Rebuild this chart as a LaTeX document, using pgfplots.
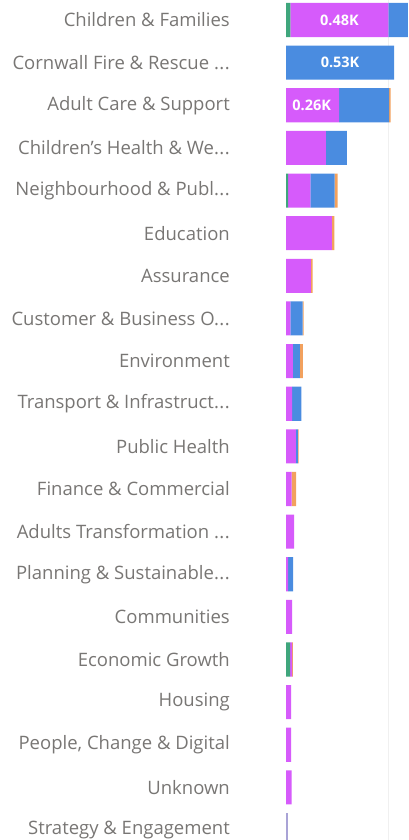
\documentclass[border=0pt]{standalone}
\usepackage{fontspec}
\setmainfont{Open Sans}
\usepackage{pgfplots}
\pgfplotsset{compat=1.18}
\definecolor{SegGreen}{HTML}{3FA67C}
\definecolor{SegMagenta}{HTML}{D65BFB}
\definecolor{SegBlue}{HTML}{4A8CE0}
\definecolor{SegOrange}{HTML}{F2A15E}
\definecolor{SegLavender}{HTML}{A9A3D6}
\definecolor{LabelGrey}{HTML}{787674}
\newcommand{\el}{.\kern0.5pt.\kern0.5pt.}

\begin{document}
\begin{tikzpicture}
\useasboundingbox (0,0) rectangle (408pt,840pt);
\begin{axis}[
  at={(286pt,0pt)}, anchor=south west,
  scale only axis, width=122pt, height=840pt,
  xbar stacked, bar width=0.8,
  xmin=0, xmax=0.598,
  ymin=-0.47, ymax=19.235, y dir=reverse,
  ytick={0,1,2,3,4,5,6,7,8,9,10,11,12,13,14,15,16,17,18,19},
  yticklabels={{Children \& Families}, {Cornwall Fire \& Rescue \el}, {Adult Care \& Support},
    {Children's Health \& We\el}, {Neighbourhood \& Publ\el}, {Education}, {Assurance},
    {Customer \& Business O\el}, {Environment}, {Transport \& Infrastruct\el}, {Public Health},
    {Finance \& Commercial}, {Adults Transformation \el}, {Planning \& Sustainable\el},
    {Communities}, {Economic Growth}, {Housing}, {People, Change \& Digital}, {Unknown},
    {Strategy \& Engagement}},
  yticklabel style={anchor=east, inner sep=0pt, xshift=-56pt, font=\fontsize{18.5}{20}\selectfont, text=LabelGrey},
  xtick={0.5}, xticklabels={}, xmajorgrids, grid style={gray!12, line width=1pt},
  major tick length=0pt,
  axis line style={draw=none},
  every axis plot/.append style={draw=none},
]
% green
\addplot[fill=SegGreen] coordinates {
  (0.022,0) (0,1) (0,2) (0,3) (0.01,4) (0,5) (0,6) (0,7) (0,8) (0,9)
  (0,10) (0,11) (0,12) (0,13) (0,14) (0.02,15) (0,16) (0,17) (0,18) (0,19)};
% magenta
\addplot[fill=SegMagenta] coordinates {
  (0.48,0) (0,1) (0.26,2) (0.196,3) (0.11,4) (0.225,5) (0.122,6) (0.022,7) (0.034,8) (0.03,9)
  (0.048,10) (0.028,11) (0.04,12) (0.01,13) (0.03,14) (0.01,15) (0.025,16) (0.025,17) (0.027,18) (0,19)};
% blue
\addplot[fill=SegBlue] coordinates {
  (0.2,0) (0.53,1) (0.245,2) (0.103,3) (0.118,4) (0,5) (0,6) (0.06,7) (0.034,8) (0.045,9)
  (0.01,10) (0,11) (0,12) (0.025,13) (0,14) (0,15) (0,16) (0,17) (0,18) (0,19)};
% orange
\addplot[fill=SegOrange] coordinates {
  (0,0) (0,1) (0.008,2) (0,3) (0.015,4) (0.012,5) (0.008,6) (0.004,7) (0.015,8) (0,9)
  (0.004,10) (0.022,11) (0,12) (0,13) (0,14) (0.004,15) (0,16) (0,17) (0,18) (0,19)};
% small grey-lavender remainder
\addplot[fill=SegLavender] coordinates {
  (0,0) (0,1) (0,2) (0,3) (0,4) (0,5) (0,6) (0,7) (0,8) (0,9)
  (0,10) (0,11) (0,12) (0,13) (0,14) (0,15) (0,16) (0,17) (0,18) (0.009,19)};
\coordinate (lbA) at (axis cs:0.262,0);
\coordinate (lbB) at (axis cs:0.265,1);
\coordinate (lbC) at (axis cs:0.126,2);
\end{axis}
\node[text=white, font=\bfseries\fontsize{14.5}{16}\selectfont] at (lbA) {0.48K};
\node[text=white, font=\bfseries\fontsize{14.5}{16}\selectfont] at (lbB) {0.53K};
\node[text=white, font=\bfseries\fontsize{14.5}{16}\selectfont] at (lbC) {0.26K};
\end{tikzpicture}
\end{document}
